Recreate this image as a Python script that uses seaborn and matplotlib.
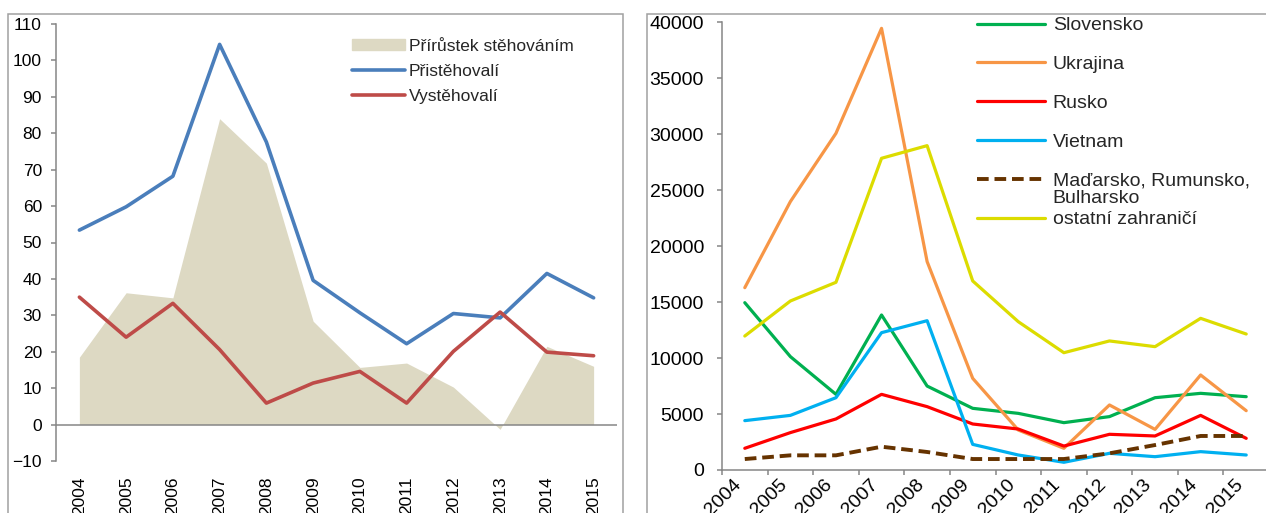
import numpy as np
import pandas as pd
import matplotlib
matplotlib.use("Agg")
import matplotlib.pyplot as plt
from matplotlib.patches import Rectangle, Patch
from matplotlib.ticker import FixedLocator, MultipleLocator
import seaborn as sns

sns.set_theme(style="white")
plt.rcParams["font.family"] = ["Liberation Sans", "DejaVu Sans"]

years = list(range(2004, 2016))

# left panel (thousands)
prirustek = [18.5, 36.2, 34.8, 84.0, 71.8, 28.4, 15.7, 16.9, 10.3, -1.3, 21.5, 16.0]
pristehovali = [53.4, 59.8, 68.2, 104.4, 77.6, 39.6, 30.7, 22.2, 30.5, 29.3, 41.5, 34.8]
vystehovali = [35.0, 24.0, 33.3, 20.6, 5.9, 11.4, 14.6, 5.9, 20.1, 30.9, 19.9, 18.9]

# right panel (persons by country)
slovensko = [14950, 10130, 6760, 13850, 7500, 5510, 5060, 4230, 4770, 6460, 6850, 6550]
ukrajina = [16290, 23980, 30080, 39460, 18620, 8190, 3570, 1940, 5810, 3630, 8490, 5300]
rusko = [1940, 3340, 4560, 6760, 5660, 4110, 3660, 2140, 3190, 3040, 4880, 2830]
vietnam = [4410, 4880, 6460, 12270, 13340, 2290, 1340, 690, 1490, 1190, 1640, 1340]
madarsko = [980, 1310, 1310, 2080, 1610, 980, 980, 980, 1490, 2230, 3040, 3040]
ostatni = [11970, 15100, 16770, 27850, 28980, 16890, 13250, 10480, 11530, 11020, 13550, 12150]

GRAY = "#868686"
W, H = 1266, 513


def style_axis(ax):
    for s in ax.spines.values():
        s.set_visible(False)
    ax.spines["left"].set_visible(True)
    ax.spines["left"].set_color(GRAY)
    ax.spines["left"].set_linewidth(1.1)
    ax.set_xlabel("")
    ax.set_ylabel("")
    ax.grid(False)


def plot_left(fig):
    ax = fig.add_axes([56 / W, (H - 461) / H, 561 / W, 437 / H])
    ax.fill_between(years, 0, prirustek, color="#DDD9C3", lw=0, zorder=1)
    sns.lineplot(x=years, y=pristehovali, ax=ax, color="#4A7EBB", lw=2.6, zorder=3)
    sns.lineplot(x=years, y=vystehovali, ax=ax, color="#BE4B48", lw=2.6, zorder=3)
    ax.axhline(0, color=GRAY, lw=1.1, zorder=2)

    ax.set_xlim(2003.5, 2015.5)
    ax.set_ylim(-10, 110)
    ax.yaxis.set_major_locator(MultipleLocator(10))
    style_axis(ax)

    ax.set_xticks(years)
    ax.set_xticklabels([str(y) for y in years], rotation=90)
    ax.tick_params(axis="x", length=0, pad=11, labelsize=12.5, colors="black")
    ax.tick_params(axis="y", left=True, length=3.6, width=1.1, color=GRAY,
                   direction="out", pad=6.5, labelsize=12.5, labelcolor="black")

    handles = [Patch(color="#DDD9C3"), ax.lines[0], ax.lines[1]]
    labels = ["Přírůstek stěhováním", "Přistěhovalí", "Vystěhovalí"]
    ax.legend(handles, labels, loc="upper left", bbox_to_anchor=(0.513, 0.986),
              frameon=False, fontsize=12.5, borderpad=0, handlelength=3.0,
              handleheight=0.6, handletextpad=0.25, labelspacing=0.58)


def plot_right(fig):
    ax = fig.add_axes([722 / W, (H - 470) / H, 547 / W, 447.7 / H])
    series = [
        ("Slovensko", slovensko, "#00B050", "-"),
        ("Ukrajina", ukrajina, "#F79646", "-"),
        ("Rusko", rusko, "#FF0000", "-"),
        ("Vietnam", vietnam, "#00B0F0", "-"),
        ("Maďarsko, Rumunsko,", madarsko, "#663300", (0, (3, 1.5))),
        ("ostatní zahraničí", ostatni, "#DCDC00", "-"),
    ]
    for name, vals, col, ls in series:
        lw = 2.8 if ls != "-" else 2.3
        sns.lineplot(x=years, y=vals, ax=ax, color=col, lw=lw, linestyle=ls)

    ax.set_xlim(2003.5, 2015.5)
    ax.set_ylim(0, 40000)
    ax.yaxis.set_major_locator(MultipleLocator(5000))
    style_axis(ax)
    ax.spines["bottom"].set_visible(True)
    ax.spines["bottom"].set_color(GRAY)
    ax.spines["bottom"].set_linewidth(1.1)

    ax.set_xticks(years)
    ax.set_xticklabels([str(y) for y in years], rotation=45, ha="right")
    ax.xaxis.set_minor_locator(FixedLocator(np.arange(2003.5, 2015.6, 1)))
    ax.tick_params(axis="x", which="major", length=0, pad=4.5, labelsize=14, colors="black")
    ax.tick_params(axis="x", which="minor", bottom=True, length=3.6, width=1.1,
                   color=GRAY, direction="out")
    ax.tick_params(axis="y", left=True, length=3.6, width=1.1, color=GRAY,
                   direction="out", pad=9.4, labelsize=14, labelcolor="black")

    leg = ax.legend(ax.lines[:6], [s[0] for s in series], loc="upper left",
                    bbox_to_anchor=(0.448, 1.034), frameon=False, fontsize=14,
                    borderpad=0, handlelength=3.5, handletextpad=0.41,
                    labelspacing=1.09)
    # second line of the two-line legend entry
    ax.annotate("Bulharsko", xy=(0, 0), xycoords=leg.get_texts()[4],
                xytext=(0, 0), textcoords="offset points", ha="left", va="top",
                fontsize=14, zorder=6)


fig = plt.figure(figsize=(W / 100, H / 100), dpi=100)
fig.patch.set_facecolor("white")
fig.add_artist(Rectangle((8 / W, -0.1), 615 / W, (H - 14) / H + 0.1,
                         transform=fig.transFigure, fill=False,
                         edgecolor="#A0A0A0", lw=1.1))
fig.add_artist(Rectangle((647 / W, -0.1), 0.6, (H - 14) / H + 0.1,
                         transform=fig.transFigure, fill=False,
                         edgecolor="#A0A0A0", lw=1.1))
plot_left(fig)
plot_right(fig)
fig.savefig("out.png", dpi=100)
